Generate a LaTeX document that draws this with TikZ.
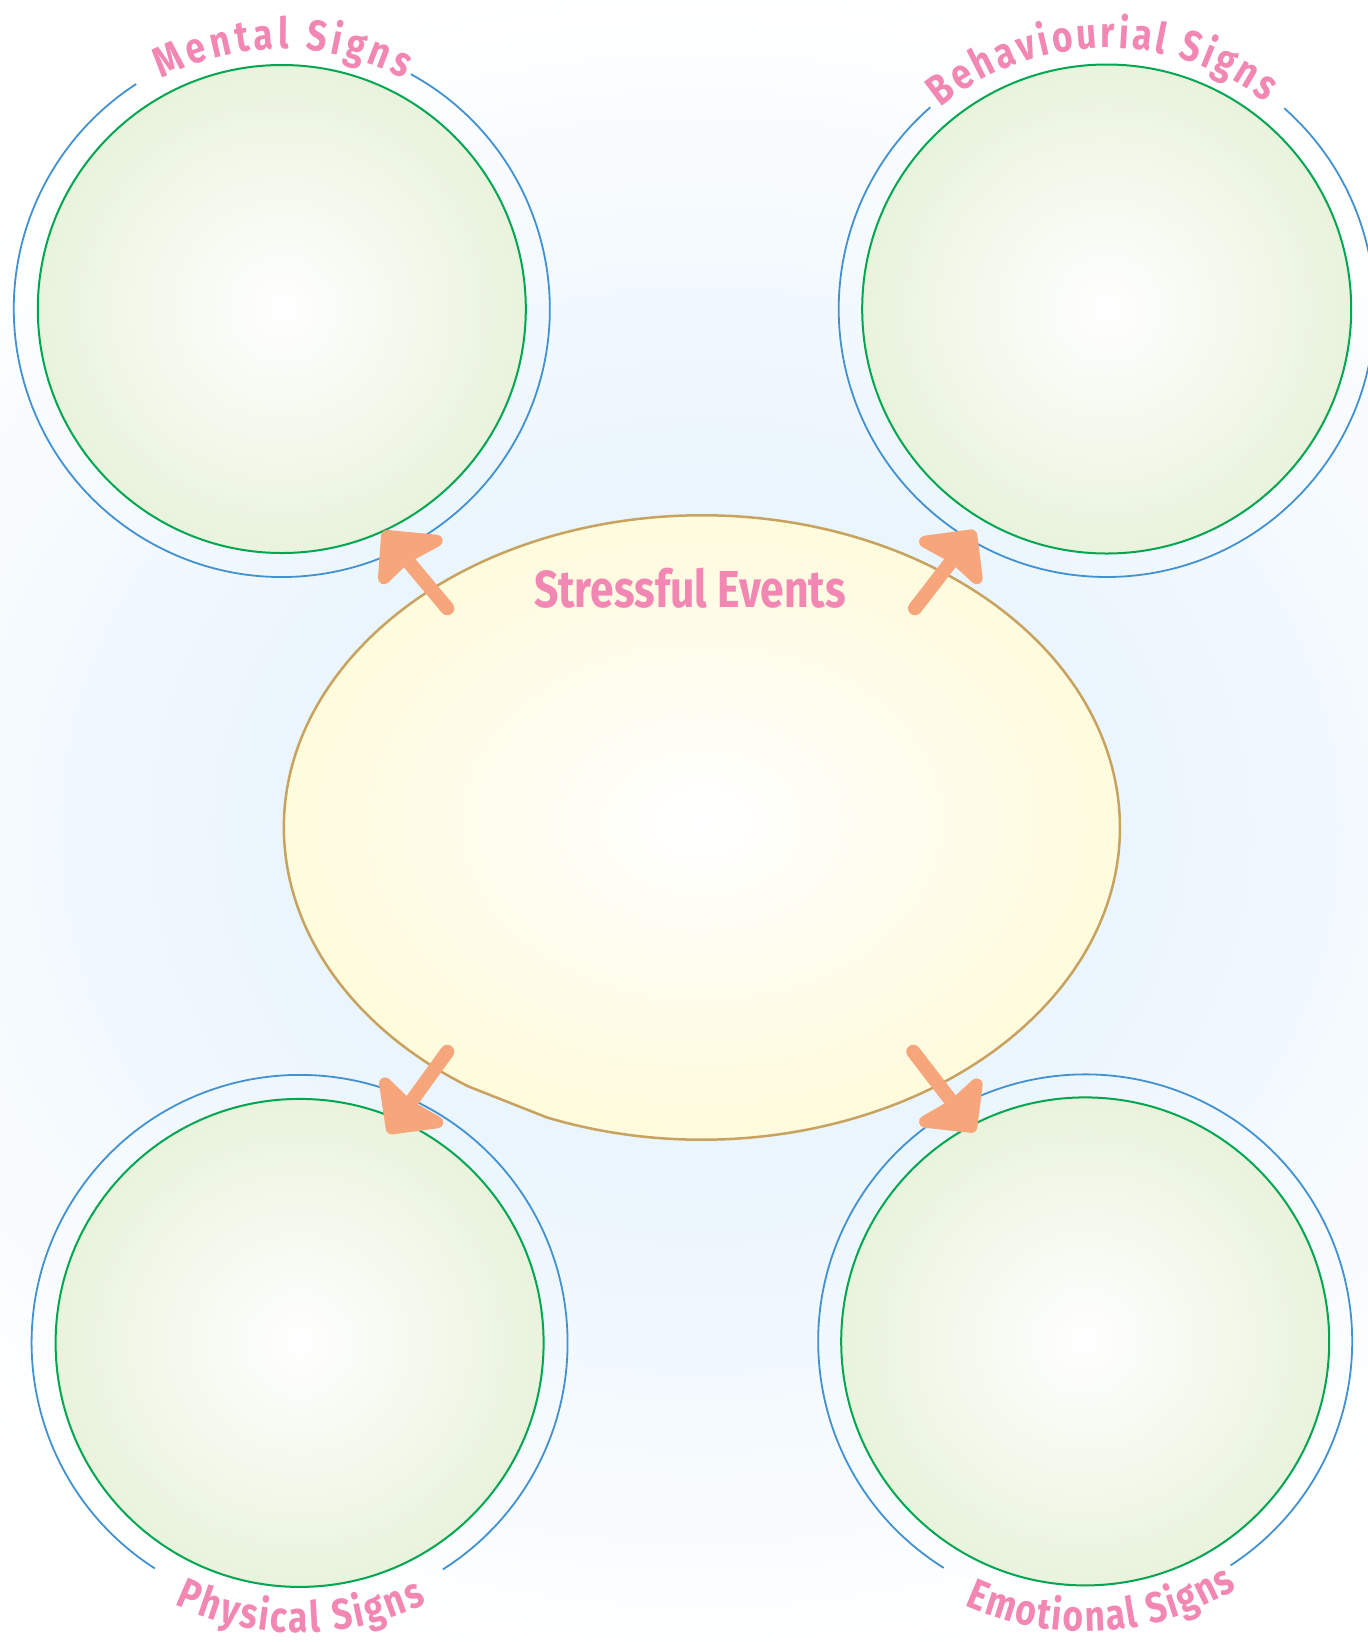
\documentclass[tikz,border=0pt]{standalone}
\usepackage{fontspec}
\newfontfamily\handfont[FakeStretch=0.82]{Fira Sans}
\usetikzlibrary{decorations.text,calc}
\definecolor{bgc}{RGB}{234,245,253}
\definecolor{greenfill}{RGB}{233,243,220}
\definecolor{greenline}{RGB}{0,166,81}
\definecolor{blueline}{RGB}{66,146,210}
\definecolor{yellowfill}{RGB}{255,250,216}
\definecolor{tanline}{RGB}{200,162,95}
\definecolor{arrowc}{RGB}{247,166,123}
\definecolor{pinkc}{RGB}{242,135,180}
\pgfdeclareradialshading{bgshade}{\pgfpoint{0bp}{0bp}}{color(0bp)=(bgc); color(10bp)=(bgc); color(25bp)=(white); color(50bp)=(white)}
\newcommand{\labelfont}{\handfont\bfseries\fontsize{43}{50}\selectfont}
\begin{document}
\begin{tikzpicture}[x=1pt,y=-1pt,
  circfill/.style={inner color=white, outer color=greenfill, draw=greenline, line width=2pt},
  ringarc/.style={draw=blueline, line width=1.8pt},
  eventshape/.style={inner color=white, outer color=yellowfill, draw=tanline, line width=2.5pt},
  arrowhd/.style={fill=arrowc, draw=arrowc, line width=12pt, line join=round, line cap=round},
  arrowsh/.style={draw=arrowc, line width=14pt, line cap=round},
  arclabel/.style={decorate, decoration={text along path, text align=fit to path, text color=pinkc, text={|\labelfont|#1}}}
]
\useasboundingbox (0,0) rectangle (1368,1642);
\fill[white] (0,0) rectangle (1368,1642);
\begin{scope}
  \clip (0,0) rectangle (1368,1642);
  \shade[shading=bgshade] (700,830) ellipse [x radius=1000, y radius=850];
\end{scope}

% centres
\coordinate (tl) at (281.8,309);
\coordinate (tr) at (1106.7,309);
\coordinate (bl) at (299.6,1342.9);
\coordinate (br) at (1085.2,1341.4);
\coordinate (ec) at (701.9,827.5);

% blue rings (with gaps for labels)
\begin{scope}
\clip (0,0) rectangle (1368,1642);
\draw[ringarc] (tl) ++(-61.2:268) arc[start angle=-61.2, end angle=237.1, radius=268];
\draw[ringarc] (tr) ++(-48.5:268) arc[start angle=-48.5, end angle=228.8, radius=268];
\draw[ringarc] (bl) ++(122.7:268) arc[start angle=122.7, end angle=417.7, radius=268];
\draw[ringarc] (br) ++(122:267) arc[start angle=122, end angle=417, radius=267];
\end{scope}

% green circles
\shadedraw[circfill] (tl) circle[radius=244];
\shadedraw[circfill] (tr) circle[radius=244.5];
\shadedraw[circfill] (bl) circle[radius=244];
\shadedraw[circfill] (br) circle[radius=244];

% central event shape
\shadedraw[eventshape] (ec) ++(124:418 and 312.2) arc[start angle=124, end angle=471.8, x radius=418, y radius=312.2] -- cycle;

% labels
\path[arclabel={Mental Signs}] (tl) ++(-117.5:260) arc[start angle=-117.5, end angle=-62, radius=260];
\path[arclabel={Behaviourial Signs}] (tr) ++(-129.5:261) arc[start angle=-129.5, end angle=-52.5, radius=261];
\path[arclabel={Physical Signs}] (bl) ++(115.5:290) arc[start angle=115.5, end angle=64, radius=290];
\path[arclabel={Emotional Signs}] (br) ++(114.5:290) arc[start angle=114.5, end angle=58.5, radius=290];
\node[anchor=base, text=pinkc, font=\handfont\bfseries\fontsize{52}{60}\selectfont] (events) at (690,607) {Stressful Events};

% arrows
\coordinate (a1tail) at (447.3,608.3); \coordinate (a1in) at (405.1,557.8);
\coordinate (a1tip) at (387,536); \coordinate (a1b1) at (384,578.3); \coordinate (a1b2) at (436.7,540.7);
\coordinate (a2tail) at (915,608.3); \coordinate (a2in) at (954.2,557.6);
\coordinate (a2tip) at (971.3,535.4); \coordinate (a2b1) at (925,541.7); \coordinate (a2b2) at (976.7,578.3);
\coordinate (a3tail) at (447.3,1051.7); \coordinate (a3in) at (408.2,1105.8);
\coordinate (a3tip) at (391.8,1128.4); \coordinate (a3b1) at (385,1083.3); \coordinate (a3b2) at (437.3,1122.3);
\coordinate (a4tail) at (913.3,1051.7); \coordinate (a4in) at (954.2,1104.8);
\coordinate (a4tip) at (971.3,1126.9); \coordinate (a4b1) at (976.7,1084.3); \coordinate (a4b2) at (925,1121.7);
\foreach \a in {a1,a2,a3,a4}{
  \draw[arrowsh] (\a tail) -- (\a in);
  \filldraw[arrowhd] (\a tip) -- (\a b1) -- (\a in) -- (\a b2) -- cycle;
}
\end{tikzpicture}
\end{document}
